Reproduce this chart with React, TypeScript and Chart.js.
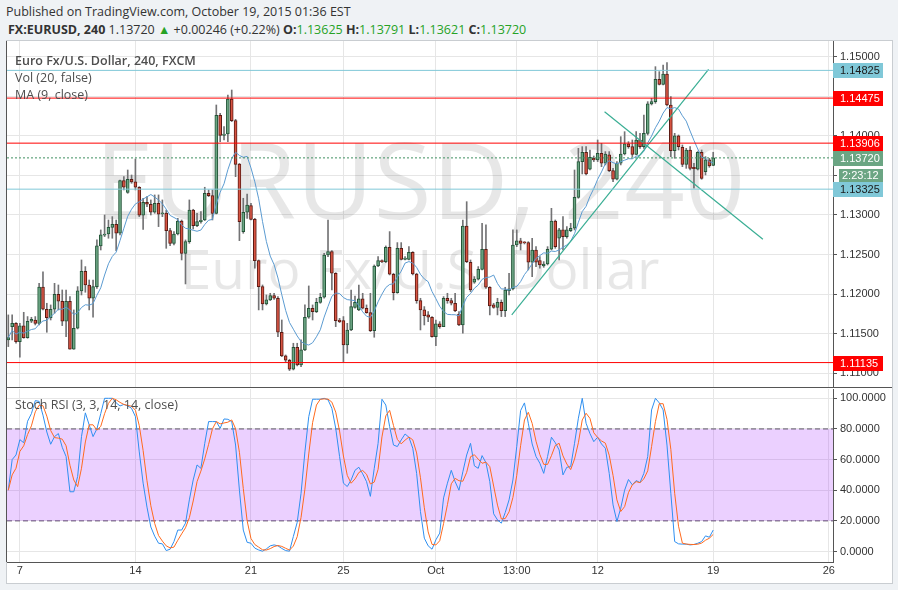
import React, { useEffect, useRef } from "react";
import { Chart, registerables } from "chart.js";
Chart.register(...registerables);

// ---------- data ----------
const opens = [1.11421,1.11589,1.11631,1.11400,1.11598,1.11450,1.11657,1.11673,1.11631,1.12090,
1.11808,1.11703,1.11808,1.11997,1.11909,1.11657,1.11909,1.11303,1.11568,1.12040,
1.12288,1.12115,1.11947,1.12094,1.12608,1.12743,1.12759,1.12843,1.12881,1.12768,
1.13433,1.13285,1.13450,1.13416,1.13349,1.12995,1.13159,1.13134,1.13033,1.13146,
1.13012,1.13024,1.12801,1.12641,1.12759,1.12923,1.12515,1.12662,1.13062,1.12864,
1.12915,1.12936,1.13273,1.13243,1.13020,1.14258,1.14005,1.14022,1.14464,1.14190,
1.13643,1.12789,1.13033,1.13117,1.12944,1.12423,1.12094,1.11875,1.11926,1.11981,
1.11947,1.11518,1.11219,1.11164,1.11051,1.11328,1.11105,1.11295,1.11707,1.11821,
1.11779,1.11896,1.11960,1.12494,1.12536,1.12263,1.11673,1.11665,1.11358,1.11547,
1.11833,1.11800,1.11939,1.11821,1.11766,1.11539,1.12355,1.12423,1.12410,1.12591,
1.12250,1.12019,1.12578,1.12439,1.12439,1.12528,1.12254,1.11918,1.11800,1.11737,
1.11707,1.11463,1.11623,1.11589,1.11947,1.11918,1.11884,1.11749,1.11610,1.12860,
1.12402,1.12149,1.12187,1.12313,1.12566,1.12086,1.11863,1.11833,1.11896,1.11791,
1.12044,1.12065,1.12620,1.12671,1.12650,1.12650,1.12402,1.12557,1.12423,1.12355,
1.12380,1.12566,1.12923,1.12705,1.12810,1.12726,1.12801,1.12831,1.13222,1.13673,
1.13790,1.13576,1.13715,1.13694,1.13778,1.13652,1.13757,1.13559,1.13450,1.13652,
1.13769,1.13896,1.13862,1.13765,1.13946,1.13862,1.14030,1.14401,1.14430,1.14712,
1.14649,1.14779,1.14388,1.13811,1.13997,1.13853,1.13639,1.13820,1.13601,1.13576,
1.13790,1.13546,1.13694,1.13625];

const highs = [1.11737,1.11737,1.11640,1.11631,1.11770,1.11716,1.11707,1.11716,1.12136,1.12280,
1.11884,1.11863,1.12136,1.12115,1.12052,1.12052,1.11968,1.11800,1.12094,1.12431,
1.12347,1.12178,1.12178,1.12684,1.12810,1.12999,1.12936,1.12978,1.12936,1.13441,
1.13483,1.13567,1.13504,1.13706,1.13357,1.13210,1.13231,1.13189,1.13252,1.13252,
1.13189,1.13062,1.12831,1.12789,1.12957,1.12936,1.12684,1.13189,1.13071,1.13020,
1.13041,1.13349,1.13315,1.13315,1.14388,1.14283,1.14115,1.14514,1.14577,1.14207,
1.13650,1.13210,1.13264,1.13146,1.12957,1.12431,1.12115,1.11989,1.12010,1.12010,
1.11968,1.11673,1.11231,1.11177,1.11379,1.11379,1.11421,1.11863,1.12103,1.11863,
1.11947,1.12010,1.12515,1.12936,1.12549,1.12271,1.11694,1.11716,1.11631,1.12052,
1.11976,1.12115,1.12010,1.11863,1.12010,1.12368,1.12473,1.12431,1.12608,1.12789,
1.12263,1.12650,1.12650,1.12473,1.12599,1.12536,1.12263,1.11947,1.11842,1.11779,
1.11716,1.11673,1.11652,1.11968,1.12010,1.11947,1.12010,1.11779,1.12936,1.13167,
1.12431,1.12221,1.12347,1.12894,1.12873,1.12094,1.11884,1.11947,1.11926,1.12086,
1.12263,1.12810,1.12810,1.12705,1.12662,1.12662,1.12705,1.12599,1.12473,1.12410,
1.12599,1.13083,1.12936,1.12831,1.12978,1.12852,1.12894,1.13567,1.13841,1.13862,
1.13862,1.13820,1.13744,1.13946,1.13904,1.13799,1.13799,1.13588,1.13673,1.13988,
1.14051,1.13925,1.13946,1.14051,1.14030,1.14262,1.14430,1.14472,1.14872,1.14809,
1.14893,1.14923,1.14493,1.14030,1.14009,1.13883,1.13841,1.13862,1.13652,1.13799,
1.13820,1.13736,1.13715,1.13791];

const lows = [1.11337,1.11421,1.11379,1.11202,1.11442,1.11442,1.11640,1.11610,1.11610,1.11800,
1.11518,1.11673,1.11758,1.11800,1.11602,1.11463,1.11303,1.11303,1.11560,1.11989,
1.12023,1.11800,1.11707,1.12073,1.12557,1.12726,1.12705,1.12705,1.12549,1.12747,
1.13315,1.13273,1.13399,1.13315,1.12978,1.12818,1.13104,1.12999,1.13020,1.12852,
1.12978,1.12578,1.12612,1.12620,1.12747,1.12431,1.12128,1.12641,1.12822,1.12852,
1.12894,1.12928,1.13231,1.12936,1.13012,1.13925,1.13946,1.13925,1.14178,1.13483,
1.12675,1.12768,1.12957,1.12936,1.12326,1.11800,1.11800,1.11863,1.11918,1.11934,
1.11463,1.11210,1.11147,1.11034,1.11042,1.11093,1.11084,1.11286,1.11694,1.11673,
1.11766,1.11884,1.11947,1.12473,1.12052,1.11589,1.11640,1.11147,1.11253,1.11539,
1.11821,1.11791,1.11812,1.11758,1.11526,1.11455,1.12347,1.12397,1.12397,1.12242,
1.11926,1.12010,1.12431,1.12431,1.12431,1.12242,1.11884,1.11547,1.11610,1.11652,
1.11455,1.11349,1.11568,1.11589,1.11884,1.11863,1.11779,1.11602,1.11505,1.12397,
1.12031,1.12136,1.12178,1.12305,1.12073,1.11737,1.11821,1.11737,1.11716,1.11716,
1.11989,1.12052,1.12599,1.12557,1.12633,1.12305,1.12221,1.12347,1.12326,1.12338,
1.12368,1.12557,1.12578,1.12431,1.12557,1.12705,1.12789,1.12810,1.13210,1.13517,
1.13504,1.13567,1.13673,1.13673,1.13609,1.13631,1.13546,1.13420,1.13441,1.13631,
1.13757,1.13841,1.13736,1.13757,1.13841,1.13841,1.14009,1.14388,1.14409,1.14641,
1.14641,1.14375,1.13736,1.13715,1.13820,1.13609,1.13588,1.13567,1.13336,1.13567,
1.13450,1.13504,1.13601,1.13621];

const closes = [1.11450,1.11631,1.11400,1.11598,1.11450,1.11657,1.11682,1.11631,1.12090,1.11808,
1.11703,1.11808,1.11997,1.11909,1.11657,1.11909,1.11303,1.11568,1.12040,1.12288,
1.12115,1.11947,1.12094,1.12608,1.12747,1.12759,1.12843,1.12881,1.12768,1.13433,
1.13349,1.13450,1.13416,1.13349,1.12995,1.13159,1.13134,1.13033,1.13146,1.13008,
1.13024,1.12801,1.12641,1.12759,1.12923,1.12515,1.12662,1.13062,1.12864,1.12915,
1.12936,1.13273,1.13243,1.13020,1.14258,1.14005,1.14022,1.14464,1.14190,1.13639,
1.12915,1.13033,1.13125,1.12944,1.12423,1.12094,1.11875,1.11926,1.11981,1.11947,
1.11518,1.11219,1.11164,1.11051,1.11328,1.11105,1.11295,1.11707,1.11821,1.11779,
1.11896,1.11960,1.12494,1.12536,1.12263,1.11665,1.11652,1.11358,1.11547,1.11842,
1.11896,1.11939,1.11821,1.11766,1.11539,1.12355,1.12423,1.12410,1.12591,1.12250,
1.12019,1.12578,1.12439,1.12456,1.12528,1.12254,1.11918,1.11800,1.11728,1.11707,
1.11463,1.11623,1.11589,1.11947,1.11918,1.11884,1.11791,1.11610,1.12860,1.12410,
1.12052,1.12191,1.12313,1.12566,1.12086,1.11850,1.11833,1.11896,1.11791,1.12052,
1.12065,1.12620,1.12671,1.12641,1.12646,1.12402,1.12557,1.12402,1.12368,1.12380,
1.12566,1.12923,1.12599,1.12810,1.12726,1.12810,1.12831,1.13222,1.13673,1.13790,
1.13517,1.13727,1.13694,1.13778,1.13652,1.13769,1.13559,1.13450,1.13652,1.13769,
1.13896,1.13862,1.13765,1.13946,1.13862,1.14030,1.14401,1.14430,1.14712,1.14649,
1.14779,1.14388,1.13811,1.13997,1.13862,1.13639,1.13820,1.13588,1.13584,1.13790,
1.13462,1.13694,1.13618,1.13720];

const stochK = [40,60,63,73,71,85,90,98.5,98,89,
78,70,75,77,68,62,39,39,49,75,
90.5,82.6,75,80,90,100,100,100,97,95,
96,95,93.5,88,65,44.6,29,16,10,5.4,
5,0.6,1.5,6.5,14,14,18.5,33.7,46.7,56.5,
54.3,70.6,84.8,84.8,84.8,80.4,86.5,86.3,84.8,69.5,
40,14,6,5.4,2.2,1,0.2,1.7,3.7,4.3,
3.7,2,0.6,0.2,9.8,19,38,65,88,99.4,
99.4,99.4,100,99,93.5,80.4,62,44.6,42.4,46.7,
53,55,50.7,45.6,36,54.3,70.6,99.4,95.6,81.5,
69.5,68.5,72.8,76.7,74.6,67.4,51,26,8.7,3.7,
1.5,7.6,12,35,44.6,53,45.6,40,52,63,
70.6,55.9,54.3,62.6,58,45.6,24.6,20.6,18.5,25.4,
33.7,46.7,68.5,92,97,83.7,70.2,62,57.6,51,
62,74.6,71,66.3,50,55,55.4,70.6,87,100,
83.7,77,71.7,74.6,70.2,67.4,51,30.4,19.6,28.3,
40,47,43.5,46.3,45,51,62,92.4,100,97,
92.4,69.5,38,6.5,5,4.8,4.8,4.3,4.6,5.4,
6.5,10.2,9.3,14];

const priceTicks = [1.11, 1.115, 1.12, 1.125, 1.13, 1.135, 1.14, 1.145, 1.15];
const stochTicks = [0, 20, 40, 60, 80, 100];
const xTickIdx = [3, 33, 63, 87, 111, 132, 153, 183, 213];
const xTickLabels = ["7", "14", "21", "25", "Oct", "13:00", "12", "19", "26"];
const levelPrices = [1.14825, 1.14475, 1.13906, 1.13325, 1.11135];
const levelKinds = ["cyan", "red", "red", "cyan", "red"];
const lastPrice = 1.1372;
const countdown = "2:23:12";
const trendStartIdx = [130.7, 154.8];
const trendStartPrice = [1.11736, 1.14303];
const trendEndIdx = [181.8, 195.9];
const trendEndPrice = [1.14838, 1.12692];
const bandUpper = 80;
const bandLower = 20;
const maLength = 9;
const stochDLength = 3;

// ---------- styles ----------
const X_MIN = -0.34, X_MAX = 214.1;
const P_MIN = 1.10814, P_MAX = 1.15196;
const S_MIN = -6.85, S_MAX = 106.07;
const UP = "#6ba583", DOWN = "#d75442", UP_B = "#225437", DOWN_B = "#5b1a13", WICK = "#737375";
const RED = "#ff0000", CYAN = "#80c8d8", GRID = "#e6e6e6", AXIS = "#555555";
const TICK_FONT = { family: '"Liberation Sans", Arial, sans-serif', size: 11 };
const TEXT_FONT = '"Open Sans", sans-serif';

function sma(arr: number[], n: number) {
  return arr.map((_, i) => {
    const s = Math.max(0, i - n + 1);
    const w = arr.slice(s, i + 1);
    return w.reduce((a, b) => a + b, 0) / w.length;
  });
}

const fixY = (w: number) => (s: any) => { s.width = w; s.paddingTop = 0; s.paddingBottom = 0; };

export default function App() {
  const mainRef = useRef<HTMLCanvasElement>(null);
  const stochRef = useRef<HTMLCanvasElement>(null);

  useEffect(() => {
    const idx = closes.map((_, i) => i);
    const ma = sma(closes, maLength);
    const stochD = sma(stochK, stochDLength);

    const mainOverlay = {
      id: "mainOverlay",
      beforeDatasetsDraw(chart: any) {
        const { ctx, chartArea } = chart;
        const cx = (chartArea.left + chartArea.right) / 2;
        ctx.save();
        ctx.beginPath();
        ctx.rect(chartArea.left, chartArea.top, chartArea.right - chartArea.left, chartArea.bottom - chartArea.top);
        ctx.clip();
        ctx.fillStyle = "rgba(0,0,0,0.095)";
        ctx.textAlign = "center";
        ctx.textBaseline = "alphabetic";
        ctx.font = `106px ${TEXT_FONT}`;
        ctx.fillText("EURUSD, 240", cx, 178);
        ctx.font = `55px ${TEXT_FONT}`;
        ctx.fillText("Euro Fx/U.S. Dollar", cx, 248);
        ctx.restore();
      },
      afterDraw(chart: any) {
        const { ctx, chartArea, scales } = chart;
        const y = scales.y;
        ctx.save();
        // pane borders
        ctx.strokeStyle = AXIS;
        ctx.lineWidth = 1;
        ctx.beginPath();
        ctx.moveTo(chartArea.left - 0.5, 0);
        ctx.lineTo(chartArea.left - 0.5, chart.height);
        ctx.moveTo(chartArea.left - 1, chart.height - 0.5);
        ctx.lineTo(chart.width, chart.height - 0.5);
        ctx.stroke();
        // legend texts
        ctx.textAlign = "left";
        ctx.textBaseline = "middle";
        ctx.fillStyle = "#4e4e4e";
        ctx.font = `600 12.5px ${TEXT_FONT}`;
        ctx.fillText("Euro Fx/U.S. Dollar, 240, FXCM", 15, 20);
        ctx.font = `12.5px ${TEXT_FONT}`;
        ctx.fillText("Vol (20, false)", 15, 37);
        ctx.fillText("MA (9, close)", 15, 54);
        // price labels
        const boxes = levelPrices.map((p, k) => ({
          v: p, bg: levelKinds[k] === "red" ? RED : CYAN, fg: levelKinds[k] === "red" ? "#ffffff" : "#1a1a1a",
        }));
        boxes.push({ v: lastPrice, bg: UP, fg: "#ffffff" });
        ctx.font = `11px "Liberation Sans", Arial, sans-serif`;
        const x0 = chartArea.right;
        for (const b of boxes) {
          const py = Math.round(y.getPixelForValue(b.v));
          ctx.fillStyle = b.bg;
          ctx.fillRect(x0, py - 7, 50, 15);
          ctx.fillStyle = b.fg;
          ctx.fillText(b.v.toFixed(5), x0 + 7, py + 1);
        }
        const ly = Math.round(y.getPixelForValue(lastPrice)) + 17;
        ctx.fillStyle = UP;
        ctx.fillRect(x0 + 6, ly - 6, 44, 13);
        ctx.fillStyle = "#ffffff";
        ctx.fillText(countdown, x0 + 9, ly + 1);
        ctx.restore();
      },
    };

    const stochOverlay = {
      id: "stochOverlay",
      afterDraw(chart: any) {
        const { ctx, chartArea } = chart;
        ctx.save();
        ctx.strokeStyle = AXIS;
        ctx.lineWidth = 1;
        ctx.beginPath();
        ctx.moveTo(chartArea.left - 0.5, 0);
        ctx.lineTo(chartArea.left - 0.5, chartArea.bottom);
        ctx.stroke();
        ctx.textAlign = "left";
        ctx.textBaseline = "middle";
        ctx.fillStyle = "#4e4e4e";
        ctx.font = `12.5px ${TEXT_FONT}`;
        ctx.fillText("Stoch RSI (3, 3, 14, 14, close)", 15, 17);
        ctx.restore();
      },
    };

    const hline = (p: number, color: string, dash: number[] = []) => ({
      type: "line",
      data: [{ x: X_MIN, y: p }, { x: X_MAX, y: p }],
      borderColor: color, borderWidth: 1, borderDash: dash, pointRadius: 0, order: 0,
    });

    const mainChart = new Chart(mainRef.current!, {
      type: "line",
      data: {
        datasets: [
          ...levelPrices.map((p, k) => hline(p, levelKinds[k] === "red" ? RED : CYAN)),
          hline(lastPrice, "#3f8f60", [2, 2]),
          ...trendStartIdx.map((_, k) => ({
            type: "line",
            data: [{ x: trendStartIdx[k], y: trendStartPrice[k] }, { x: trendEndIdx[k], y: trendEndPrice[k] }],
            borderColor: "#3aae94", borderWidth: 1.2, pointRadius: 0, order: 0,
          })),
          {
            type: "line", data: idx.map((i) => ({ x: i, y: ma[i] })),
            borderColor: "#5b9bd1", borderWidth: 1, pointRadius: 0, order: 1,
          },
          {
            type: "bar", data: idx.map((i) => ({ x: i, y: [opens[i], closes[i]] })),
            backgroundColor: (c: any) => (closes[c.dataIndex] >= opens[c.dataIndex] ? UP : DOWN),
            borderColor: (c: any) => (closes[c.dataIndex] >= opens[c.dataIndex] ? UP_B : DOWN_B),
            borderWidth: 1, borderSkipped: false, barThickness: 3, minBarLength: 1, grouped: false, order: 2,
          },
          {
            type: "bar", data: idx.map((i) => ({ x: i, y: [lows[i], highs[i]] })),
            backgroundColor: WICK, barThickness: 1, grouped: false, order: 3,
          },
        ] as any,
      },
      options: {
        animation: false, responsive: false, devicePixelRatio: 1, events: [],
        layout: { padding: { left: 7, right: 0, top: 0, bottom: 0 } },
        plugins: { legend: { display: false }, tooltip: { enabled: false } },
        scales: {
          x: {
            type: "linear", min: X_MIN, max: X_MAX, offset: false,
            grid: { color: GRID, offset: false, drawTicks: false },
            border: { display: false }, ticks: { display: false },
            afterBuildTicks: (s: any) => { s.ticks = xTickIdx.map((v) => ({ value: v })); },
            afterFit: (s: any) => { s.height = 0; s.paddingLeft = 0; s.paddingRight = 0; },
          },
          y: {
            type: "linear", position: "right", min: P_MIN, max: P_MAX,
            grid: { color: GRID, tickColor: AXIS, tickLength: 4 },
            border: { color: AXIS },
            ticks: { color: "#333", font: TICK_FONT, padding: 3, callback: (v: any) => Number(v).toFixed(5) },
            afterBuildTicks: (s: any) => { s.ticks = priceTicks.map((v) => ({ value: v })); },
            afterFit: fixY(59),
          },
        },
      } as any,
      plugins: [mainOverlay],
    });

    const stochChart = new Chart(stochRef.current!, {
      type: "line",
      data: {
        datasets: [
          { ...hline(bandUpper, "#5e5468", [5, 3]), fill: "+1", backgroundColor: "rgba(153,21,255,0.2)", order: 5 },
          { ...hline(bandLower, "#5e5468", [5, 3]), fill: false, order: 5 },
          { type: "line", data: idx.map((i) => ({ x: i, y: stochK[i] })), borderColor: "#2e8ff0", borderWidth: 1, pointRadius: 0, order: 2 },
          { type: "line", data: idx.map((i) => ({ x: i, y: stochD[i] })), borderColor: "#ff6a1e", borderWidth: 1, pointRadius: 0, order: 1 },
        ] as any,
      },
      options: {
        animation: false, responsive: false, devicePixelRatio: 1, events: [],
        layout: { padding: { left: 7, right: 0, top: 1, bottom: 0 } },
        plugins: { legend: { display: false }, tooltip: { enabled: false } },
        scales: {
          x: {
            type: "linear", min: X_MIN, max: X_MAX, offset: false,
            grid: { color: GRID, offset: false, drawTicks: false },
            border: { display: true, color: AXIS },
            ticks: {
              color: "#333", font: TICK_FONT, padding: 2, maxRotation: 0, autoSkip: false,
              callback: (v: any) => { const k = xTickIdx.indexOf(Number(v)); return k >= 0 ? xTickLabels[k] : ""; },
            },
            afterBuildTicks: (s: any) => { s.ticks = xTickIdx.map((v) => ({ value: v })); },
            afterFit: (s: any) => { s.height = 21; s.paddingLeft = 0; s.paddingRight = 0; },
          },
          y: {
            type: "linear", position: "right", min: S_MIN, max: S_MAX,
            grid: { color: GRID, tickColor: AXIS, tickLength: 4 },
            border: { color: AXIS },
            ticks: { color: "#333", font: TICK_FONT, padding: 3, callback: (v: any) => Number(v).toFixed(4) },
            afterBuildTicks: (s: any) => { s.ticks = stochTicks.map((v) => ({ value: v })); },
            afterFit: fixY(59),
          },
        },
      } as any,
      plugins: [stochOverlay],
    });

    return () => { mainChart.destroy(); stochChart.destroy(); };
  }, []);

  const green = { color: "#26a226" };
  return (
    <div style={{ position: "fixed", left: 0, top: 0, width: 898, height: 590, background: "#eff2f5", overflow: "hidden" }}>
      <div style={{ position: "absolute", left: 6, top: 4, font: `12.5px ${TEXT_FONT}`, color: "#333", whiteSpace: "nowrap", lineHeight: "16px" }}>
        Published on TradingView.com, October 19, 2015 01:36 EST
      </div>
      <div style={{ position: "absolute", left: 8, top: 22, font: `12.5px ${TEXT_FONT}`, color: "#333", whiteSpace: "nowrap", lineHeight: "16px" }}>
        <b>FX:EURUSD, 240</b> 1.13720 <span style={green}>▲</span> +0.00246 (+0.22%) <b>O:</b><span style={green}>1.13625</span> <b>H:</b><span style={green}>1.13791</span> <b>L:</b><span style={green}>1.13621</span> <b>C:</b><span style={green}>1.13720</span>
      </div>
      <div style={{ position: "absolute", left: 6, top: 40, width: 887, height: 544, boxSizing: "border-box", background: "#fff", border: "1px solid #c9cdd1" }} />
      <canvas ref={mainRef} width={892} height={347} style={{ position: "absolute", left: 0, top: 41, width: 892, height: 347 }} />
      <canvas ref={stochRef} width={892} height={195} style={{ position: "absolute", left: 0, top: 388, width: 892, height: 195 }} />
    </div>
  );
}
